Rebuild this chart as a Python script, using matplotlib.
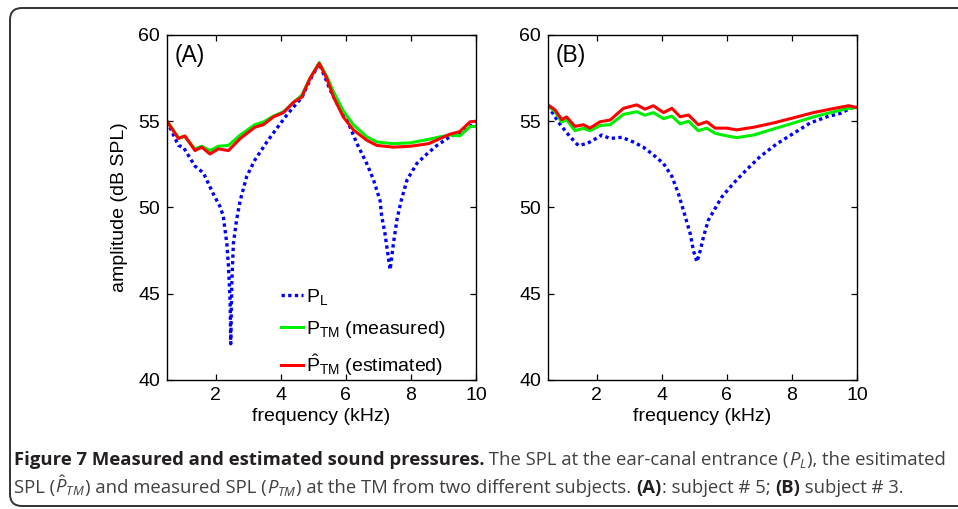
import matplotlib
matplotlib.use("Agg")
import matplotlib.pyplot as plt
from matplotlib.patches import FancyBboxPatch
from matplotlib.transforms import IdentityTransform

plt.rcParams["font.family"] = ["Liberation Sans", "DejaVu Sans"]
plt.rcParams["mathtext.fontset"] = "custom"
plt.rcParams["mathtext.rm"] = "Liberation Sans"
plt.rcParams["mathtext.it"] = "Open Sans:italic"
plt.rcParams["mathtext.bf"] = "Liberation Sans:bold"

# ── Data ────────────────────────────────────────────────────────────────────
# Panel A, subject #5
fA_L = [0.5, 0.85, 1.0, 1.36, 1.62, 1.92, 2.13, 2.23, 2.34, 2.39, 2.44, 2.46,
        2.49, 2.54, 2.64, 2.75, 2.95, 3.2, 3.57, 3.88, 4.18, 4.49, 4.64, 4.9,
        5.18, 5.52, 5.72, 6.03, 6.34, 6.64, 6.85, 7.05, 7.1, 7.2, 7.26, 7.36,
        7.46, 7.57, 7.7, 7.88, 8.18, 8.49, 8.8, 9.2, 9.62, 10.0]
A_L = [55.0, 53.6, 53.5, 52.4, 52.0, 50.8, 50.05, 49.5, 47.9, 46.6, 44.6, 42.1,
       45.4, 47.9, 49.3, 50.4, 51.8, 52.75, 53.8, 54.6, 55.35, 56.05, 56.35, 57.4,
       58.35, 56.8, 56.05, 55.1, 53.7, 52.55, 51.6, 50.4, 49.5, 48.5, 47.7, 46.4,
       47.9, 49.3, 50.4, 51.6, 52.55, 53.1, 53.6, 54.1, 54.4, 55.0]

fA_TM = [0.5, 0.64, 0.85, 1.05, 1.36, 1.57, 1.82, 2.08, 2.39, 2.75, 3.2, 3.46,
         3.77, 4.08, 4.39, 4.64, 4.9, 5.18, 5.41, 5.62, 5.92, 6.23, 6.64, 6.95,
         7.46, 7.98, 8.54, 8.9, 9.2, 9.5, 9.82, 10.0]
A_TM_meas = [55.0, 54.65, 54.05, 54.1, 53.4, 53.55, 53.3, 53.55, 53.6, 54.2, 54.8, 54.95,
             55.3, 55.55, 56.1, 56.5, 57.5, 58.4, 57.6, 56.7, 55.6, 54.8, 54.1, 53.8,
             53.7, 53.75, 53.95, 54.1, 54.2, 54.15, 54.7, 54.7]
A_TM_est = [55.0, 54.6, 54.0, 54.15, 53.3, 53.5, 53.1, 53.4, 53.3, 54.0, 54.65, 54.8,
            55.25, 55.5, 56.1, 56.4, 57.5, 58.35, 57.5, 56.4, 55.25, 54.5, 53.9, 53.6,
            53.5, 53.55, 53.7, 54.0, 54.25, 54.4, 54.97, 55.0]

# Panel B, subject #3
fB_L = [0.5, 0.77, 0.92, 1.18, 1.43, 1.69, 1.89, 2.15, 2.41, 2.77, 3.12, 3.43,
        3.74, 4.05, 4.31, 4.51, 4.66, 4.72, 4.87, 4.97, 5.08, 5.18, 5.28, 5.43,
        5.64, 5.84, 6.2, 6.61, 7.02, 7.54, 8.05, 8.56, 9.08, 9.48, 9.8, 10.0]
B_L = [55.9, 55.1, 54.7, 54.1, 53.6, 53.7, 53.9, 54.2, 54.0, 54.07, 53.8, 53.5,
       53.05, 52.55, 51.8, 50.8, 49.85, 49.47, 48.5, 47.5, 46.85, 47.5, 48.3, 49.27,
       49.95, 50.6, 51.4, 52.2, 52.95, 53.7, 54.3, 54.9, 55.26, 55.45, 55.75, 55.85]

fB_TM = [0.5, 0.72, 0.92, 1.07, 1.33, 1.59, 1.79, 2.1, 2.41, 2.82, 3.23, 3.48,
         3.74, 4.05, 4.31, 4.56, 4.82, 5.12, 5.38, 5.64, 6.0, 6.3, 6.82, 7.43,
         8.05, 8.66, 9.18, 9.74, 10.0]
B_TM_meas = [55.9, 55.55, 54.95, 55.1, 54.45, 54.6, 54.45, 54.75, 54.8, 55.4, 55.55, 55.35,
             55.5, 55.15, 55.3, 54.85, 55.0, 54.45, 54.6, 54.3, 54.15, 54.05, 54.2, 54.55,
             54.9, 55.25, 55.5, 55.75, 55.8]
B_TM_est = [55.95, 55.65, 55.1, 55.25, 54.7, 54.8, 54.6, 54.97, 55.07, 55.75, 55.95, 55.7,
            55.9, 55.5, 55.75, 55.26, 55.36, 54.8, 54.97, 54.6, 54.6, 54.5, 54.65, 54.9,
            55.2, 55.5, 55.7, 55.9, 55.8]

xticks = [2, 4, 6, 8, 10]
yticks = [40, 45, 50, 55, 60]

W, H = 958, 509
fig = plt.figure(figsize=(W / 100, H / 100), dpi=100)


def px_box(x0, x1, y_top, y_bot):
    return [x0 / W, 1 - y_bot / H, (x1 - x0) / W, (y_bot - y_top) / H]


axA = fig.add_axes(px_box(167, 476, 35, 380))
axB = fig.add_axes(px_box(548, 857, 35, 380))

for ax, panel, f_L, L, f_TM, meas, est in [
    (axA, "(A)", fA_L, A_L, fA_TM, A_TM_meas, A_TM_est),
    (axB, "(B)", fB_L, B_L, fB_TM, B_TM_meas, B_TM_est),
]:
    ax.plot(f_L, L, color="#0000ff", lw=2.4, linestyle=(0, (1, 1)),
            label=r"$\mathrm{P}_{\mathrm{L}}$")
    ax.plot(f_TM, meas, color="#00ee00", lw=2.2,
            label=r"$\mathrm{P}_{\mathrm{TM}}$ (measured)")
    ax.plot(f_TM, est, color="#ff0000", lw=2.2,
            label=r"$\hat{\mathrm{P}}_{\mathrm{TM}}$ (estimated)")
    ax.set_xlim(0.5, 10)
    ax.set_ylim(40, 60)
    ax.set_xticks(xticks)
    ax.set_yticks(yticks)
    ax.tick_params(direction="in", top=True, right=True, length=4,
                   width=0.9, labelsize=14, pad=5, colors="black")
    for sp in ax.spines.values():
        sp.set_linewidth(1.0)
    ax.set_xlabel("frequency (kHz)", fontsize=14, labelpad=3)
    ax.text(0.025, 0.94, panel, transform=ax.transAxes, fontsize=16.5,
            ha="left", va="center")

axA.set_ylabel("amplitude (dB SPL)", fontsize=14, labelpad=7)
axA.legend(loc="upper left", bbox_to_anchor=(0.37, 0.27), frameon=False,
           fontsize=14, handlelength=1.1, handletextpad=0.15,
           labelspacing=0.62, borderpad=0, borderaxespad=0)

# ── Border ──────────────────────────────────────────────────────────────────
border = FancyBboxPatch((10, 3), 1000, H - 11, boxstyle="round,pad=0,rounding_size=12",
                        transform=IdentityTransform(), facecolor="none",
                        edgecolor="#333333", linewidth=1.4)
fig.add_artist(border)

# ── Caption ─────────────────────────────────────────────────────────────────
renderer = fig.canvas.get_renderer()
cap_font = "Open Sans"
cap_size = 13.3
cap_color = "#404040"


def put_segments(x_px, y_px, segs):
    x = x_px
    for s, bold in segs:
        t = fig.text(x / W, 1 - y_px / H, s, ha="left", va="baseline",
                     fontsize=cap_size, family=cap_font,
                     fontweight="bold" if bold else "normal",
                     color="#231f20" if bold else cap_color)
        bb = t.get_window_extent(renderer)
        x = bb.x1


put_segments(14, 465, [
    ("Figure 7 Measured and estimated sound pressures.", True),
    (" The SPL at the ear-canal entrance (", False),
    (r"$P_L$", False),
    ("), the esitimated", False),
])
put_segments(14, 493, [
    ("SPL (", False),
    (r"$\hat{P}_{TM}$", False),
    (") and measured SPL (", False),
    (r"$P_{TM}$", False),
    (") at the TM from two different subjects. ", False),
    ("(A)", True),
    (": subject # 5; ", False),
    ("(B)", True),
    (" subject # 3.", False),
])

fig.savefig("out.png", dpi=100)
